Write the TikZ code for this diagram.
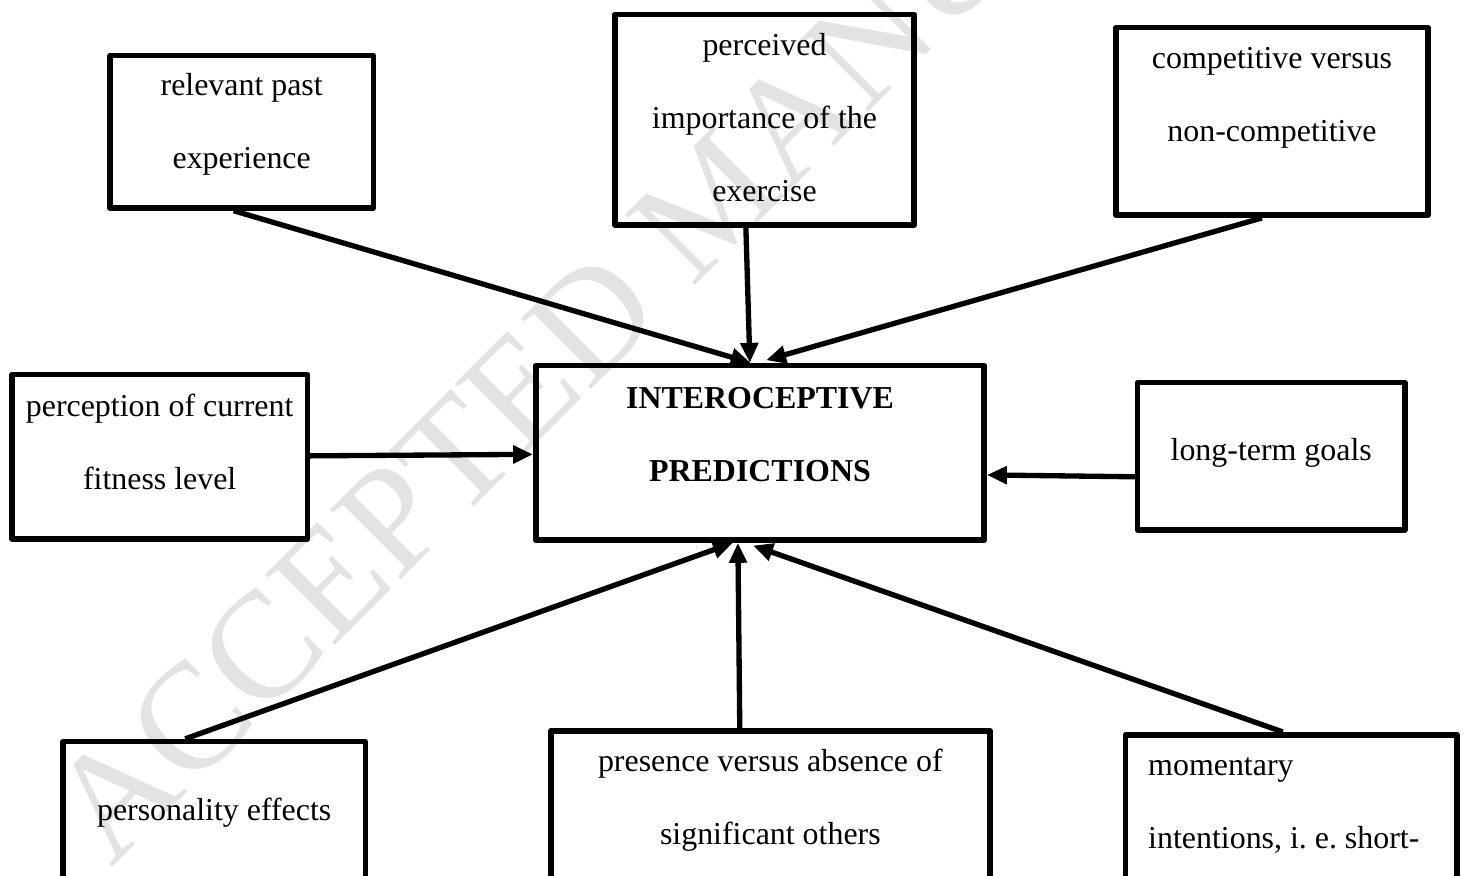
\documentclass[tikz,border=0pt]{standalone}
\usepackage{fontspec}
\setmainfont{Liberation Serif}
\usetikzlibrary{arrows.meta,positioning}

% text block pinned to the top of a box: [alignment]{width}{height}{first baseline}{text}
\newcommand{\boxtext}[5][\centering]{%
  \parbox[c][#3][t]{#2}{\fontsize{12pt}{27.5pt}\selectfont#1\rule{0pt}{#4}#5}}

\begin{document}
\begin{tikzpicture}[
  factor/.style={draw, line width=2.1pt, line join=round, inner sep=0pt, outer sep=1.05pt},
  arrow/.style={-{Triangle[length=7.5pt, width=6.5pt]}, line width=2pt},
  watermark/.style={text=black!11, font=\fontsize{57pt}{57pt}\selectfont, inner sep=0pt, anchor=base west, rotate=45},
]

\useasboundingbox (-285.8pt,-159pt) rectangle (265.5pt,170.3pt);
\clip (-285.8pt,-159pt) rectangle (265.5pt,170.3pt);

\node[watermark] (wm) at (-243.9pt,-156.6pt) {ACCEPTED MANUSCRIPT};

\node[factor] (central) at (0,0) {\boxtext{168.6pt}{65.6pt}{16pt}{\bfseries INTEROCEPTIVE\\PREDICTIONS}};

\node[factor, above left=57.2pt and 59pt of central] (past) {\boxtext{99pt}{57.3pt}{14.9pt}{relevant past\\experience}};
\node[factor, above=50.8pt of central, xshift=1.7pt] (importance) {\boxtext{112.6pt}{79.1pt}{15.2pt}{perceived\\importance of the\\exercise}};
\node[factor, above right=54.5pt and 47.4pt of central] (competitive) {\boxtext{117.5pt}{70.5pt}{15.4pt}{competitive versus\\non-competitive}};
\node[factor, left=83.8pt of central, yshift=-1.5pt] (fitness) {\boxtext{111.1pt}{61.8pt}{15.7pt}{perception of current\\fitness level}};
\node[factor, right=55.6pt of central, yshift=-1.3pt] (goals) {\boxtext{100.5pt}{55.4pt}{29.3pt}{long-term goals}};
\node[factor, below left=73.7pt and 62pt of central] (personality) {\boxtext{113.7pt}{62pt}{29.6pt}{personality effects}};
\node[factor, below=69.6pt of central, xshift=3.9pt] (others) {\boxtext{165.2pt}{66pt}{15.4pt}{presence versus absence of\\significant others}};
\node[factor, below right=71.1pt and 51.1pt of central] (intentions) {\boxtext[\raggedright\leftskip=8.5pt]{124.6pt}{80pt}{15.4pt}{momentary\\intentions, i.\ e.\ short-}};

\draw[arrow] ([xshift=-3pt]past.south) -- ([xshift=-3.5pt]central.north);
\draw[arrow] ([xshift=-7pt]importance.south) -- ([xshift=-3.8pt]central.north);
\draw[arrow] ([xshift=-3.8pt]competitive.south) -- ([xshift=2.3pt, yshift=1pt]central.north);
\draw[arrow] (fitness) -- (central);
\draw[arrow] ([yshift=-7.7pt]goals.west) -- ([yshift=-8.3pt]central.east);
\draw[arrow] ([xshift=-10.9pt]personality.north) -- ([xshift=-10.2pt]central.south);
\draw[arrow] ([xshift=-11.5pt]others.north) -- ([xshift=-8.3pt]central.south);
\draw[arrow] ([xshift=-3.2pt]intentions.north) -- ([xshift=-2.6pt, yshift=-1pt]central.south);

\end{tikzpicture}
\end{document}
